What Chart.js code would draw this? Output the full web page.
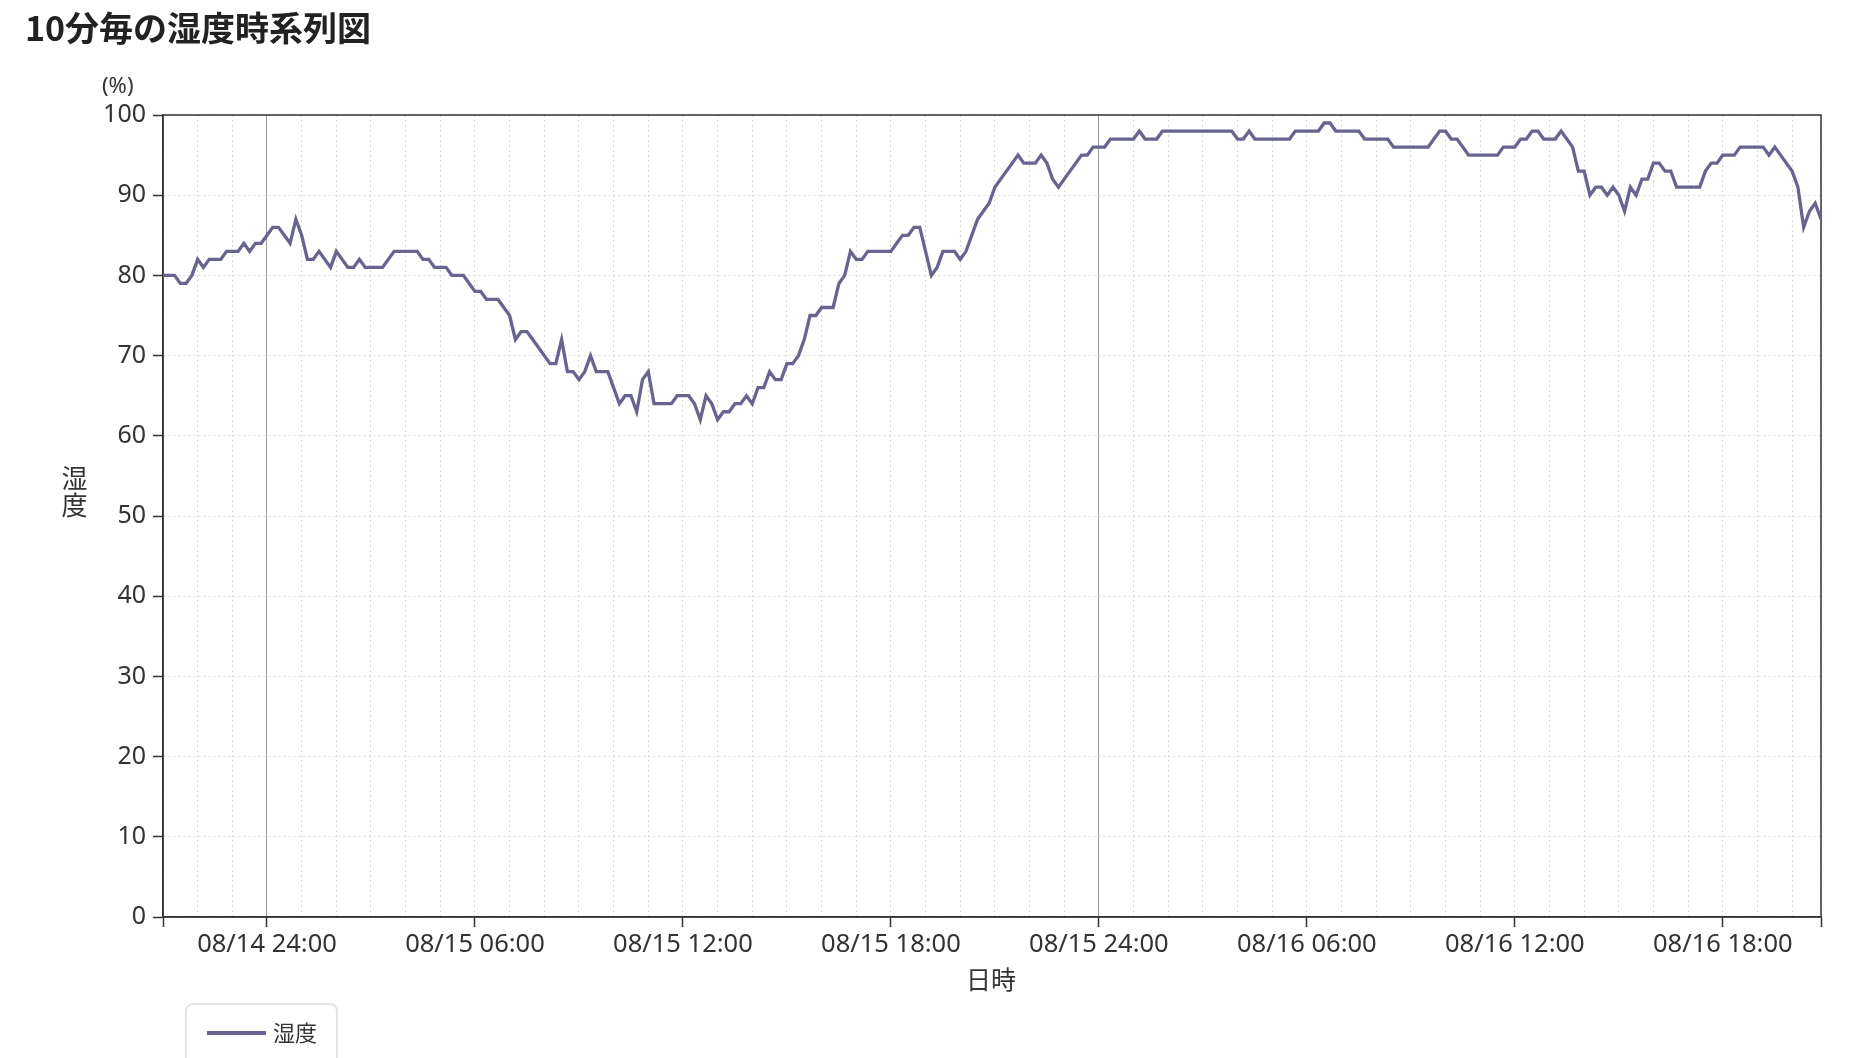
<!DOCTYPE html>
<html lang="ja">
<head>
<meta charset="utf-8">
<title>10分毎の湿度時系列図</title>
<script src="https://cdn.jsdelivr.net/npm/chart.js@4.4.0/dist/chart.umd.min.js"></script>
<style>
  html, body { margin: 0; padding: 0; background: #fff; overflow: hidden; }
  body { font-family: "Noto Sans", "Noto Sans CJK JP", sans-serif; color: #333; }
  #wrap { position: relative; width: 1855px; height: 1058px; }
  #chart { position: absolute; left: 0; top: 0; }
  .lbl { position: absolute; white-space: nowrap; }
  #title { left: 25px; top: 7px; font-size: 34px; font-weight: 700; font-family: "Noto Sans CJK JP", sans-serif; color: #222; line-height: 40px; }
  #unit { left: 102px; top: 71px; font-size: 22px; line-height: 26px; }
  #ytitle { left: 56px; top: 465px; font-size: 26px; font-family: "Noto Sans CJK JP", sans-serif; writing-mode: vertical-rl; text-orientation: upright; letter-spacing: 1px; }
  #xtitle { left: 991px; top: 963px; transform: translateX(-50%); font-size: 25px; font-family: "Noto Sans CJK JP", sans-serif; line-height: 30px; }
  #legend { position: absolute; left: 185px; top: 1003px; width: 153px; height: 70px; border: 2px solid #e4e4e4; border-radius: 8px; box-sizing: border-box; }
  #legend .swatch { position: absolute; left: 20px; top: 26px; width: 59px; height: 3.5px; background: #67648f; }
  #legend .txt { position: absolute; left: 86px; top: 11px; font-size: 22px; line-height: 30px; font-family: "Noto Sans CJK JP", sans-serif; color: #333; }
</style>
</head>
<body>
<div id="wrap">
  <canvas id="chart" width="1855" height="1058"></canvas>
  <div id="title" class="lbl">10分毎の湿度時系列図</div>
  <div id="unit" class="lbl">(%)</div>
  <div id="ytitle" class="lbl">湿度</div>
  <div id="xtitle" class="lbl">日時</div>
  <div id="legend"><span class="swatch"></span><span class="txt">湿度</span></div>
</div>
<script>
// 08/14 21:00 から 10分毎
const startDay = 14;
const startHour = 21;
const stepMinutes = 10;

const humidity = [
  80, 80, 80, 79, 79, 80, 82, 81, 82, 82,
  82, 83, 83, 83, 84, 83, 84, 84, 85, 86,
  86, 85, 84, 87, 85, 82, 82, 83, 82, 81,
  83, 82, 81, 81, 82, 81, 81, 81, 81, 82,
  83, 83, 83, 83, 83, 82, 82, 81, 81, 81,
  80, 80, 80, 79, 78, 78, 77, 77, 77, 76,
  75, 72, 73, 73, 72, 71, 70, 69, 69, 72,
  68, 68, 67, 68, 70, 68, 68, 68, 66, 64,
  65, 65, 63, 67, 68, 64, 64, 64, 64, 65,
  65, 65, 64, 62, 65, 64, 62, 63, 63, 64,
  64, 65, 64, 66, 66, 68, 67, 67, 69, 69,
  70, 72, 75, 75, 76, 76, 76, 79, 80, 83,
  82, 82, 83, 83, 83, 83, 83, 84, 85, 85,
  86, 86, 83, 80, 81, 83, 83, 83, 82, 83,
  85, 87, 88, 89, 91, 92, 93, 94, 95, 94,
  94, 94, 95, 94, 92, 91, 92, 93, 94, 95,
  95, 96, 96, 96, 97, 97, 97, 97, 97, 98,
  97, 97, 97, 98, 98, 98, 98, 98, 98, 98,
  98, 98, 98, 98, 98, 98, 97, 97, 98, 97,
  97, 97, 97, 97, 97, 97, 98, 98, 98, 98,
  98, 99, 99, 98, 98, 98, 98, 98, 97, 97,
  97, 97, 97, 96, 96, 96, 96, 96, 96, 96,
  97, 98, 98, 97, 97, 96, 95, 95, 95, 95,
  95, 95, 96, 96, 96, 97, 97, 98, 98, 97,
  97, 97, 98, 97, 96, 93, 93, 90, 91, 91,
  90, 91, 90, 88, 91, 90, 92, 92, 94, 94,
  93, 93, 91, 91, 91, 91, 91, 93, 94, 94,
  95, 95, 95, 96, 96, 96, 96, 96, 95, 96,
  95, 94, 93, 91, 86, 88, 89, 87
];

const xTickLabels = ['08/14 24:00', '08/15 06:00', '08/15 12:00', '08/15 18:00',
                     '08/15 24:00', '08/16 06:00', '08/16 12:00', '08/16 18:00'];
const firstLabelIndex = 18;   // 08/14 24:00
const labelEvery = 36;        // 6時間
const gridEvery = 6;          // 1時間
const dayLineIndex = [18, 162];
const yTicks = [0, 10, 20, 30, 40, 50, 60, 70, 80, 90, 100];

const lineColor = '#67648f';
const axisColor = '#333';
const gridColor = '#d6d6d6';
const dayGridColor = '#9a9a9a';

const lastIndex = humidity.length - 1;
const points = humidity.map((v, i) => ({ x: i, y: v }));

function labelFor(value) {
  const k = (value - firstLabelIndex) / labelEvery;
  if (Number.isInteger(k) && k >= 0 && k < xTickLabels.length) return xTickLabels[k];
  return '';
}

const framePlugin = {
  id: 'frame',
  beforeDatasetsDraw(chart) {
    const { ctx, chartArea: a } = chart;
    ctx.save();
    ctx.strokeStyle = axisColor;
    ctx.lineWidth = 1.5;
    ctx.strokeRect(a.left, a.top, a.right - a.left, a.bottom - a.top);
    ctx.restore();
  }
};

new Chart(document.getElementById('chart'), {
  type: 'line',
  data: {
    datasets: [{
      label: '湿度',
      data: points,
      borderColor: lineColor,
      borderWidth: 3.3,
      pointRadius: 0,
      tension: 0,
      fill: false
    }]
  },
  options: {
    responsive: false,
    animation: false,
    devicePixelRatio: 1,
    layout: { padding: { top: 115, right: 34, left: 0, bottom: 0 } },
    plugins: {
      legend: { display: false },
      title: { display: false },
      tooltip: { enabled: false }
    },
    scales: {
      x: {
        type: 'linear',
        min: 0,
        max: lastIndex,
        afterBuildTicks(scale) {
          const t = [];
          for (let v = 0; v <= lastIndex; v += gridEvery) t.push({ value: v });
          if (t[t.length - 1].value !== lastIndex) t.push({ value: lastIndex });
          scale.ticks = t;
        },
        afterFit(scale) { scale.height = 1058 - 917; },
        ticks: {
          autoSkip: false,
          maxRotation: 0,
          padding: 2,
          color: '#333',
          font: { family: '"Noto Sans", sans-serif', size: 25.5 },
          callback: (value) => labelFor(value)
        },
        grid: {
          drawTicks: true,
          tickLength: 10,
          lineWidth: 1,
          color: (c) => dayLineIndex.includes(c.tick && c.tick.value) ? dayGridColor : gridColor,
          tickColor: (c) => {
            const v = c.tick && c.tick.value;
            return (labelFor(v) !== '' || v === 0 || v === lastIndex) ? axisColor : 'rgba(0,0,0,0)';
          },
          tickWidth: 1.5
        },
        border: {
          display: true,
          color: axisColor,
          width: 1.5,
          dash: (c) => dayLineIndex.includes(c.tick && c.tick.value) ? [] : [2, 3]
        }
      },
      y: {
        min: 0,
        max: 100,
        afterBuildTicks(scale) { scale.ticks = yTicks.map(v => ({ value: v })); },
        afterFit(scale) { scale.width = 163; },
        ticks: {
          padding: 7,
          color: '#333',
          font: { family: '"Noto Sans", sans-serif', size: 25 }
        },
        grid: {
          tickLength: 10,
          lineWidth: 1,
          color: gridColor,
          tickColor: axisColor,
          tickWidth: 1.5
        },
        border: { display: true, color: axisColor, width: 1.5, dash: [2, 3] }
      }
    }
  },
  plugins: [framePlugin]
});
</script>
</body>
</html>
